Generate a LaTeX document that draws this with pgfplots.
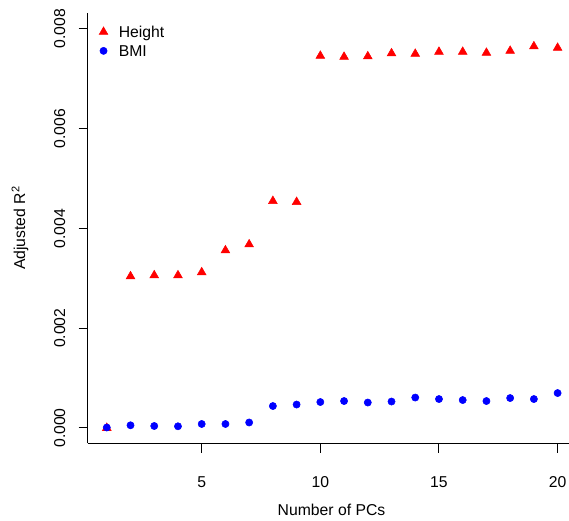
\documentclass[border=0pt]{standalone}
\usepackage{pgfplots}
\pgfplotsset{compat=1.18}
\usepackage{fontspec}
\setmainfont{Liberation Sans}

\pgfplotstableread{
pc  height   bmi
1   0.00000  0.00001
2   0.00304  0.000054
3   0.00306  0.00004
4   0.00306  0.000034
5   0.00312  0.00008
6   0.00356  0.00008
7   0.00368  0.00011
8   0.00455  0.00044
9   0.00453  0.00047
10  0.00746  0.00052
11  0.00744  0.00054
12  0.00745  0.00051
13  0.00751  0.00053
14  0.00750  0.00061
15  0.00754  0.00058
16  0.00754  0.00056
17  0.00752  0.00054
18  0.00756  0.00060
19  0.00765  0.00058
20  0.00762  0.00070
}\pcdata

\begin{document}
\begin{tikzpicture}
\useasboundingbox (0pt,0pt) rectangle (426.75pt,390.75pt);
\begin{axis}[
  at={(66pt,58.275pt)}, anchor=south west,
  scale only axis, width=360.75pt, height=322.95pt,
  xmin=0.208, xmax=20.48,
  ymin=-0.000307, ymax=0.008325,
  axis x line*=bottom, axis y line*=left,
  axis line style={-, line width=0.75pt, black},
  tick style={line width=0.75pt, black},
  tick align=outside, major tick length=7pt,
  xtick={5,10,15,20},
  ytick={0,0.002,0.004,0.006,0.008},
  scaled y ticks=false,
  y tick label style={/pgf/number format/fixed, /pgf/number format/fixed zerofill, /pgf/number format/precision=3},
  /pgf/number format/assume math mode=true,
  font=\fontsize{11.8}{14}\selectfont,
  xticklabel style={anchor=base, inner sep=0pt, yshift=-25.8pt},
  yticklabel style={rotate=90, anchor=south, inner sep=0pt, yshift=9.75pt},
  every axis y label/.style={at={(axis description cs:-0.1414,0.5)}, rotate=90, anchor=center},
  every axis x label/.style={at={(axis description cs:0.5062,-0.1688)}, anchor=base},
  xlabel={Number of PCs},
  ylabel={Adjusted R\textsuperscript{2}},
  clip=false,
  legend style={draw=none, fill=none, inner sep=0pt,
    at={(axis description cs:0.0118,0.968)}, anchor=north west,
    row sep=3.5pt, column sep=4.25pt,
    nodes={inner sep=0pt, text height=8.2pt, text depth=2.5pt, anchor=base west},
    font=\fontsize{11.8}{14}\selectfont},
  legend cell align=left,
  legend image code/.code={\path (0pt,0pt) (14pt,0pt);
    \draw[#1] plot coordinates {(7pt,4.3pt)};},
]
\addplot[only marks, mark=triangle*, mark size=3.77pt, color={rgb,255:red,255;green,0;blue,0}] table[x=pc, y=height] {\pcdata};
\addlegendentry{Height}
\addplot[only marks, mark=*, mark size=2.7pt, color={rgb,255:red,0;green,0;blue,255}] table[x=pc, y=bmi] {\pcdata};
\addlegendentry{BMI}
\end{axis}
\end{tikzpicture}
\end{document}
